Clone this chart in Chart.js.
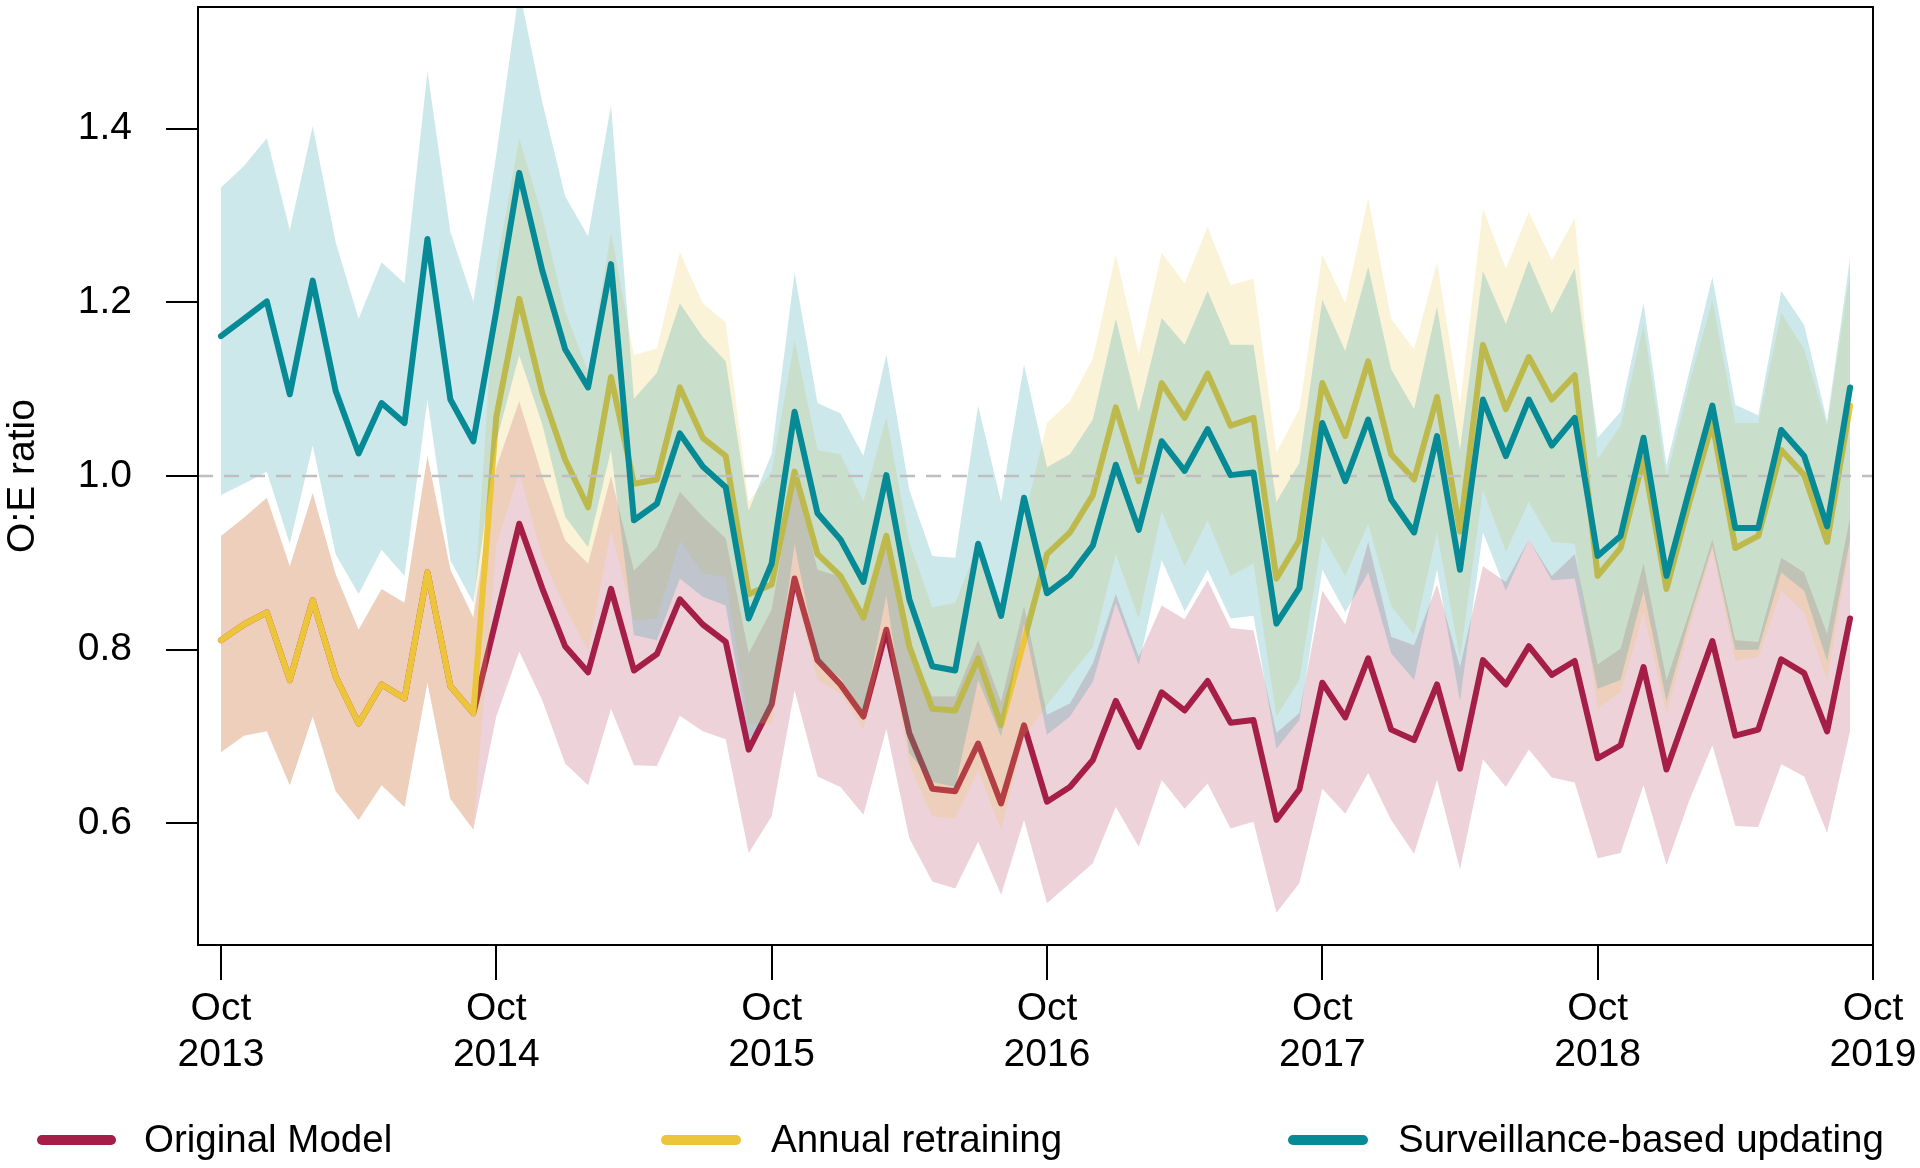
<!DOCTYPE html>
<html>
<head>
<meta charset="utf-8">
<script src="https://cdn.jsdelivr.net/npm/chart.js@4/dist/chart.umd.min.js"></script>
<style>
html,body{margin:0;padding:0;background:#ffffff;}
#wrap{position:relative;width:1920px;height:1168px;}
</style>
</head>
<body>
<div id="wrap"><canvas id="c" width="1920" height="1168"></canvas></div>
<script>
// ---- Data (monthly, Oct 2013 = month 0 ... Sep 2019 = month 71) ----
const tickMonths = [0, 12, 24, 36, 48, 60, 72];
const tickMonthName = 'Oct';
const tickYears = ['2013', '2014', '2015', '2016', '2017', '2018', '2019'];
const yTicks = [0.6, 0.8, 1.0, 1.2, 1.4];
const seriesNames = ['Original Model', 'Annual retraining', 'Surveillance-based updating'];

const originalLine = [
  0.811,0.829,0.843,0.765,0.857,0.769,0.715,0.760,0.744,0.889,0.758,0.727,
  0.836,0.945,0.871,0.804,0.774,0.870,0.776,0.795,0.858,0.829,0.809,0.685,
  0.737,0.882,0.788,0.760,0.723,0.823,0.704,0.640,0.637,0.692,0.623,0.713,
  0.625,0.642,0.673,0.741,0.688,0.751,0.730,0.764,0.716,0.719,0.604,0.639,
  0.762,0.722,0.790,0.708,0.696,0.760,0.663,0.788,0.760,0.804,0.771,0.787,
  0.675,0.690,0.780,0.662,0.736,0.810,0.701,0.708,0.789,0.773,0.706,0.836];
const originalUpper = [
  0.931,0.952,0.975,0.896,0.980,0.887,0.823,0.870,0.854,1.023,0.892,0.837,
  1.010,1.086,1.000,0.926,0.899,1.000,0.891,0.918,0.982,0.953,0.928,0.796,
  0.846,1.000,0.892,0.884,0.834,0.930,0.803,0.746,0.746,0.811,0.740,0.850,
  0.725,0.738,0.784,0.864,0.792,0.851,0.835,0.880,0.825,0.822,0.704,0.727,
  0.868,0.829,0.924,0.815,0.805,0.875,0.780,0.896,0.878,0.927,0.885,0.910,
  0.783,0.801,0.899,0.765,0.843,0.927,0.811,0.809,0.906,0.889,0.818,0.952];
const originalLower = [
  0.682,0.701,0.706,0.644,0.723,0.637,0.604,0.644,0.619,0.762,0.628,0.593,
  0.723,0.798,0.742,0.669,0.644,0.732,0.667,0.666,0.724,0.706,0.697,0.566,
  0.608,0.753,0.654,0.642,0.610,0.709,0.583,0.533,0.525,0.579,0.518,0.604,
  0.508,0.531,0.554,0.619,0.573,0.650,0.617,0.646,0.594,0.602,0.497,0.531,
  0.640,0.611,0.658,0.604,0.565,0.650,0.547,0.674,0.642,0.685,0.653,0.647,
  0.560,0.566,0.644,0.552,0.627,0.690,0.597,0.596,0.668,0.654,0.589,0.706];

const annualLine = [
  0.811,0.829,0.843,0.765,0.857,0.769,0.715,0.760,0.744,0.889,0.758,0.727,
  1.068,1.204,1.096,1.019,0.964,1.114,0.991,0.996,1.102,1.044,1.023,0.864,
  0.875,1.005,0.910,0.885,0.837,0.931,0.804,0.732,0.730,0.790,0.713,0.810,
  0.910,0.935,0.978,1.079,0.994,1.107,1.067,1.118,1.058,1.067,0.882,0.926,
  1.107,1.046,1.132,1.025,0.996,1.091,0.936,1.151,1.077,1.137,1.088,1.116,
  0.885,0.917,1.020,0.870,0.970,1.061,0.917,0.931,1.030,1.001,0.924,1.081];
const annualUpper = [
  0.931,0.952,0.975,0.896,0.980,0.887,0.823,0.870,0.854,1.023,0.892,0.837,
  1.240,1.389,1.300,1.190,1.120,1.280,1.139,1.147,1.258,1.199,1.177,0.971,
  1.005,1.156,1.030,1.025,0.971,1.068,0.924,0.849,0.854,0.920,0.834,0.950,
  1.061,1.086,1.135,1.255,1.140,1.257,1.222,1.287,1.220,1.227,1.027,1.077,
  1.255,1.199,1.320,1.181,1.146,1.246,1.082,1.308,1.239,1.304,1.248,1.297,
  1.020,1.058,1.174,0.998,1.107,1.202,1.061,1.061,1.188,1.146,1.058,1.234];
const annualLower = [
  0.682,0.701,0.706,0.644,0.723,0.637,0.604,0.644,0.619,0.762,0.628,0.593,
  0.920,1.005,0.907,0.849,0.799,0.937,0.834,0.836,0.926,0.888,0.884,0.715,
  0.715,0.870,0.765,0.750,0.708,0.822,0.669,0.608,0.606,0.661,0.593,0.700,
  0.736,0.770,0.803,0.910,0.836,0.959,0.896,0.949,0.885,0.899,0.723,0.765,
  0.931,0.885,0.945,0.850,0.817,0.935,0.790,0.984,0.913,0.970,0.924,0.922,
  0.733,0.751,0.843,0.727,0.825,0.915,0.787,0.792,0.868,0.843,0.765,0.920];

const surveillanceLine = [
  1.161,1.181,1.201,1.094,1.225,1.098,1.026,1.084,1.061,1.273,1.088,1.040,
  1.190,1.349,1.237,1.146,1.102,1.244,0.949,0.968,1.049,1.011,0.987,0.836,
  0.899,1.074,0.957,0.927,0.878,1.001,0.858,0.781,0.776,0.922,0.839,0.975,
  0.865,0.885,0.920,1.013,0.938,1.040,1.006,1.054,1.001,1.004,0.830,0.871,
  1.061,0.994,1.065,0.973,0.935,1.046,0.892,1.088,1.023,1.088,1.035,1.067,
  0.908,0.931,1.044,0.885,0.984,1.081,0.940,0.940,1.053,1.023,0.942,1.102];
const surveillanceUpper = [
  1.332,1.357,1.389,1.283,1.403,1.269,1.181,1.246,1.222,1.466,1.281,1.201,
  1.370,1.560,1.431,1.322,1.276,1.427,1.089,1.119,1.199,1.160,1.132,0.960,
  1.026,1.234,1.084,1.072,1.023,1.140,0.984,0.908,0.906,1.081,0.970,1.128,
  1.010,1.025,1.065,1.181,1.074,1.182,1.151,1.213,1.151,1.151,0.970,1.015,
  1.203,1.144,1.241,1.123,1.077,1.195,1.030,1.236,1.175,1.248,1.187,1.239,
  1.044,1.074,1.199,1.012,1.121,1.229,1.082,1.070,1.213,1.174,1.063,1.251];
const surveillanceLower = [
  0.978,0.991,1.005,0.922,1.035,0.910,0.864,0.915,0.885,1.088,0.903,0.854,
  1.040,1.139,1.060,0.953,0.918,1.030,0.817,0.811,0.882,0.861,0.851,0.696,
  0.731,0.922,0.788,0.767,0.727,0.863,0.681,0.648,0.642,0.765,0.700,0.830,
  0.702,0.723,0.763,0.854,0.782,0.903,0.844,0.892,0.836,0.839,0.686,0.719,
  0.892,0.843,0.889,0.796,0.765,0.892,0.741,0.935,0.868,0.927,0.880,0.882,
  0.755,0.765,0.868,0.741,0.835,0.920,0.800,0.800,0.889,0.868,0.787,0.927];

const referenceValue = 1.0;

// ---- Styling ----
const RED = '#A51E47', YEL = '#ECC53A', TEAL = '#068A96';
const bandAlpha = c => {
  const r = parseInt(c.slice(1,3),16), g = parseInt(c.slice(3,5),16), b = parseInt(c.slice(5,7),16);
  return `rgba(${r},${g},${b},0.2)`;
};
const FONT = "'Liberation Sans', Arial, Helvetica, sans-serif";
const pts = arr => arr.map((y, i) => ({x: i, y}));

const lineDs = (label, arr, color, order) => ({
  label, data: pts(arr), borderColor: color, borderWidth: 6, pointRadius: 0,
  fill: false, tension: 0, borderJoinStyle: 'round', borderCapStyle: 'round', order
});
const upperDs = (arr, color, target, order) => ({
  label: 'upper', data: pts(arr), borderWidth: 0, borderColor: 'rgba(0,0,0,0)', pointRadius: 0,
  backgroundColor: bandAlpha(color), fill: target, tension: 0, order
});
const lowerDs = (arr, order) => ({
  label: 'lower', data: pts(arr), borderWidth: 0, borderColor: 'rgba(0,0,0,0)', pointRadius: 0,
  fill: false, tension: 0, order
});

const datasets = [
  upperDs(surveillanceUpper, TEAL, 1, 2),   // 0
  lowerDs(surveillanceLower, 2),            // 1
  lineDs(seriesNames[2], surveillanceLine, TEAL, 0), // 2
  upperDs(annualUpper, YEL, 4, 4),          // 3
  lowerDs(annualLower, 4),                  // 4
  lineDs(seriesNames[1], annualLine, YEL, 3), // 5
  upperDs(originalUpper, RED, 7, 6),        // 6
  lowerDs(originalLower, 6),                // 7
  lineDs(seriesNames[0], originalLine, RED, 5), // 8
  { label: 'ref', data: [{x: -1, y: referenceValue}, {x: 72, y: referenceValue}],
    borderColor: '#BEBEBE', borderWidth: 2.5, borderDash: [15, 11], pointRadius: 0,
    fill: false, order: 1 }
];

const boxPlugin = {
  id: 'box',
  afterDraw(chart) {
    const {ctx, chartArea: a} = chart;
    ctx.save();
    ctx.strokeStyle = '#000';
    ctx.lineWidth = 2;
    ctx.strokeRect(a.left, a.top, a.right - a.left, a.bottom - a.top);
    // legend
    const items = [
      {label: seriesNames[0], color: RED, x1: 42, x2: 111, tx: 144},
      {label: seriesNames[1], color: YEL, x1: 666, x2: 736, tx: 771},
      {label: seriesNames[2], color: TEAL, x1: 1293, x2: 1363, tx: 1398}
    ];
    const y = 1140;
    ctx.font = `38.5px ${FONT}`;
    ctx.textBaseline = 'middle';
    ctx.textAlign = 'left';
    items.forEach(it => {
      ctx.beginPath();
      ctx.lineCap = 'round';
      ctx.lineWidth = 10;
      ctx.strokeStyle = it.color;
      ctx.moveTo(it.x1, y); ctx.lineTo(it.x2, y);
      ctx.stroke();
      ctx.fillStyle = '#000';
      ctx.fillText(it.label, it.tx, y + 1);
    });
    ctx.restore();
  }
};

new Chart(document.getElementById('c'), {
  type: 'line',
  data: { datasets },
  options: {
    responsive: false,
    animation: false,
    devicePixelRatio: 1,
    layout: { padding: { left: 0, top: 7, right: 47, bottom: 0 } },
    plugins: {
      legend: { display: false },
      tooltip: { enabled: false },
      filler: { propagate: false }
    },
    scales: {
      x: {
        type: 'linear', min: -1, max: 72,
        afterFit: s => { s.height = 223; s.paddingLeft = 0; s.paddingRight = 0; },
        afterBuildTicks: s => { s.ticks = tickMonths.map(v => ({value: v})); },
        border: { display: false },
        grid: { drawOnChartArea: false, drawTicks: true, tickLength: 35, color: '#000', lineWidth: 2 },
        ticks: {
          autoSkip: false, maxRotation: 0, minRotation: 0, padding: 6, color: '#000',
          font: { family: FONT, size: 39, lineHeight: 46 / 39 },
          callback: (v, i) => [tickMonthName, tickYears[i]]
        }
      },
      y: {
        type: 'linear', min: 0.46, max: 1.54,
        afterFit: s => { s.width = 198; s.paddingTop = 0; s.paddingBottom = 0; },
        afterBuildTicks: s => { s.ticks = yTicks.map(v => ({value: v})); },
        border: { display: false },
        grid: { drawOnChartArea: false, drawTicks: true, tickLength: 32, color: '#000', lineWidth: 2 },
        ticks: {
          padding: 34, color: '#000',
          font: { family: FONT, size: 39 },
          callback: v => Number(v).toFixed(1)
        },
        title: {
          display: true, text: 'O:E ratio', color: '#000',
          font: { family: FONT, size: 39 },
          padding: { top: 0, bottom: 0 }
        }
      }
    }
  },
  plugins: [boxPlugin]
});
</script>
</body>
</html>
